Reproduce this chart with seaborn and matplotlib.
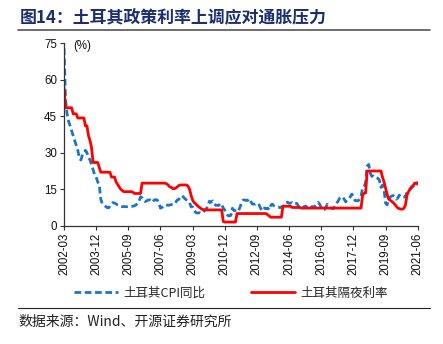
import numpy as np
import pandas as pd
import matplotlib
matplotlib.use("Agg")
import matplotlib.pyplot as plt
from matplotlib.lines import Line2D
import seaborn as sns

# ---- data (monthly, 2002-03 .. 2021-06) ----
start_month = "2002-03"
n_months = 232
tick_labels = ["2002-03", "2003-12", "2005-09", "2007-06", "2009-03", "2010-12",
               "2012-09", "2014-06", "2016-03", "2017-12", "2019-09", "2021-06"]

cpi_yoy = [
    # 2002 Mar-Dec
    73, 52, 46, 43, 41, 39, 37, 35, 33, 31,
    # 2003
    28, 27, 29, 30, 31, 30, 28, 27, 25, 23, 21, 20,
    # 2004
    18, 17, 11, 9, 8.5, 8, 7.5, 7.3, 8, 9, 9.5, 9.3,
    # 2005
    9, 8.5, 8.2, 8, 7.8, 7.9, 7.8, 7.8, 7.9, 7.8, 7.9, 8,
    # 2006
    8.2, 8.5, 9.2, 10, 11.9, 11.5, 10.5, 9.9, 10.2, 10.6, 10.6, 9.7,
    # 2007
    9.9, 10.6, 10.7, 10.5, 9.2, 7.2, 7.5, 8.2, 8.5, 8.5, 8.4, 8.5,
    # 2008
    8.7, 8.5, 9.2, 9.7, 10.6, 10.8, 12, 12.3, 11.8, 11.1, 10.6, 10.3,
    # 2009
    9.5, 7.8, 7.7, 6.1, 5.5, 5.2, 5.3, 5.3, 5.1, 5.5, 6.5, 7,
    # 2010
    8.2, 10.1, 9.6, 10.2, 9.1, 8.4, 8.4, 8.3, 9.2, 8.6, 7.3, 6.4,
    # 2011
    4.9, 4.2, 4, 4.3, 7.2, 6.2, 6.3, 6.7, 6.2, 7.7, 9.5, 10.5,
    # 2012
    10.6, 10.4, 10.4, 11.1, 9.9, 8.9, 8.9, 8.9, 9.2, 9.1, 7.8, 6.4,
    # 2013
    6.2, 7.3, 7.0, 7.2, 6.5, 8.3, 8.9, 8.2, 7.9, 7.7, 7.7, 7.4,
    # 2014
    7.8, 7.9, 8.4, 9.4, 9.7, 9.2, 9.3, 9.5, 8.9, 9.0, 9.2, 8.2,
    # 2015
    7.2, 7.6, 7.6, 7.9, 8.1, 7.2, 6.8, 7.1, 7.9, 7.6, 8.1, 8.8,
    # 2016
    9.6, 8.8, 7.5, 6.6, 6.6, 7.6, 8.8, 8.0, 7.3, 7.2, 7.0, 8.5,
    # 2017
    9.2, 10.1, 11.3, 11.9, 11.7, 10.9, 9.8, 10.7, 11.2, 11.9, 13.0, 11.9,
    # 2018
    10.4, 10.3, 10.2, 10.9, 12.2, 15.4, 15.9, 17.9, 24.5, 25.2, 21.6, 20.3,
    # 2019
    20.4, 19.7, 19.7, 19.5, 18.7, 15.7, 16.7, 15.0, 9.3, 8.6, 10.6, 11.8,
    # 2020
    12.2, 12.4, 11.9, 10.9, 11.4, 12.6, 11.8, 11.8, 11.8, 11.9, 14.0, 14.6,
    # 2021 Jan-Jun
    15.0, 15.6, 16.2, 17.1, 16.6, 17.5,
]

overnight_rate = [
    # 2002 Mar-Dec
    57, 48.5, 48.5, 48.5, 48.5, 48.5, 46, 46, 46, 44.3,
    # 2003
    44.3, 44.3, 44.3, 44.3, 41, 41, 37, 35, 32, 26, 26, 26,
    # 2004
    26, 24, 22, 22, 22, 22, 22, 22, 22, 20, 20, 20,
    # 2005
    18, 17, 16, 15, 14.5, 14, 14, 14, 14, 14, 14, 13.75,
    # 2006
    13.25, 13.25, 13.25, 13.25, 13.25, 17.5, 17.5, 17.5, 17.5, 17.5, 17.5, 17.5,
    # 2007
    17.5, 17.5, 17.5, 17.5, 17.5, 17.5, 17.5, 17.5, 17.5, 17.25, 16.75, 16,
    # 2008
    15.75, 15.25, 15.25, 15.5, 16, 16.5, 16.75, 16.75, 16.75, 16.75, 16.75, 16.25,
    # 2009
    15, 12.5, 10.5, 9.5, 9, 8.3, 7.8, 7.3, 6.8, 6.6, 6.5, 6.5,
    # 2010
    6.5, 6.5, 6.5, 6.5, 6.5, 6.5, 6.5, 6.5, 6.5, 6.5, 1.75, 1.5,
    # 2011
    1.5, 1.5, 1.5, 1.5, 1.5, 1.5, 1.5, 5, 5, 5, 5, 5,
    # 2012
    5, 5, 5, 5, 5, 5, 5, 5, 5, 5, 5, 5,
    # 2013
    5, 5, 5, 4.5, 4, 3.5, 3.5, 3.5, 3.5, 3.5, 3.5, 3.5,
    # 2014
    3.5, 8, 8, 8, 8, 8, 8, 7.5, 7.5, 7.5, 7.5, 7.5,
    # 2015
    7.5, 7.25, 7.25, 7.25, 7.25, 7.25, 7.25, 7.25, 7.25, 7.25, 7.25, 7.25,
    # 2016
    7.25, 7.25, 7.25, 7.25, 7.25, 7.25, 7.25, 7.25, 7.25, 7.25, 7.25, 7.25,
    # 2017
    7.25, 7.25, 7.25, 7.25, 7.25, 7.25, 7.25, 7.25, 7.25, 7.25, 7.25, 7.25,
    # 2018
    7.25, 7.25, 7.25, 7.25, 7.25, 12.5, 13.3, 13.5, 22.5, 22.5, 22.5, 22.5,
    # 2019
    22.5, 22.5, 22.5, 22.5, 22.5, 22.5, 20, 18, 15.5, 13, 11, 10.5,
    # 2020
    10, 9.5, 8.8, 8, 7.3, 7, 6.8, 6.8, 7.2, 8.5, 12.5, 14,
    # 2021 Jan-Jun
    15, 16, 16.5, 17.5, 17.5, 17.7,
]

label_cpi = "土耳其CPI同比"
label_rate = "土耳其隔夜利率"
title_text = "图14：土耳其政策利率上调应对通胀压力"
source_text = "数据来源：Wind、开源证券研究所"
unit_text = "(%)"

# ---- build frame ----
dates = pd.period_range(start_month, periods=n_months, freq="M")
idx = np.arange(n_months)
df = pd.DataFrame({"t": idx, "cpi": cpi_yoy, "rate": overnight_rate})
tick_pos = [int((pd.Period(s, freq="M") - dates[0]).n) for s in tick_labels]

sns.set_style("ticks")
plt.rcParams["font.family"] = ["Liberation Sans", "Noto Sans CJK SC", "DejaVu Sans"]

W, H = 443, 344
fig = plt.figure(figsize=(W / 100, H / 100), dpi=100)
ax = fig.add_axes([64 / W, 1 - 225.7 / H, (417.7 - 64) / W, (225.7 - 43.3) / H])

blue = "#1a75c8"
red = "#ff0000"
dash = (0, (2.4, 1.3))
sns.lineplot(data=df, x="t", y="cpi", ax=ax, color=blue, lw=2.0,
             linestyle=dash, label=label_cpi)
sns.lineplot(data=df, x="t", y="rate", ax=ax, color=red, lw=2.0, label=label_rate)

ax.set_xlim(0, n_months - 1)
ax.set_ylim(0, 75)
ax.set_yticks([0, 15, 30, 45, 60, 75])
ax.set_xticks(tick_pos)
ax.set_xticklabels(tick_labels, rotation=90)
ax.set_xlabel("")
ax.set_ylabel("")
for s in ["top", "right"]:
    ax.spines[s].set_visible(False)
for s in ["left", "bottom"]:
    ax.spines[s].set_color("#333333")
    ax.spines[s].set_linewidth(0.9)
ax.tick_params(axis="both", direction="out", length=3, width=0.8, color="#333333",
               labelsize=8.3, labelcolor="#111111", pad=2)

ax.text(0.025, 0.985, unit_text, transform=ax.transAxes, fontsize=8.3,
        va="center", ha="left", color="#111111")

ax.legend_.remove()
handles = [Line2D([0], [0], color=blue, lw=2.0, linestyle=dash),
           Line2D([0], [0], color=red, lw=2.0)]
fig.legend(handles, [label_cpi, label_rate], loc="center",
           bbox_to_anchor=(231 / W, 1 - 293 / H), ncol=2, frameon=False,
           handlelength=3.5, handletextpad=0.5, columnspacing=3.6,
           prop={"family": ["Noto Sans CJK SC"], "size": 9})

fig.text(20 / W, 1 - 17 / H, title_text, fontsize=12.2, fontweight="bold",
         color="#1b2f6e", ha="left", va="center",
         family=["Noto Sans CJK SC", "DejaVu Sans"])
fig.add_artist(Line2D([18 / W, 430 / W], [1 - 30 / H, 1 - 30 / H],
                      color="#555555", lw=1.2, transform=fig.transFigure))
fig.add_artist(Line2D([18 / W, 430 / W], [1 - 308 / H, 1 - 308 / H],
                      color="#222222", lw=0.8, transform=fig.transFigure))
fig.text(18 / W, 1 - 322 / H, source_text, fontsize=10, color="#222222",
         ha="left", va="center", family=["Noto Sans CJK SC", "DejaVu Sans"])

fig.savefig("out.png", dpi=100, facecolor="white")
